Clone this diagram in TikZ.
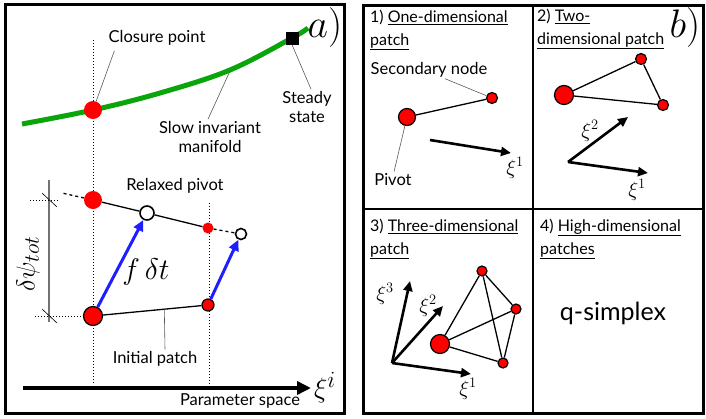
\documentclass[tikz,border=0pt]{standalone}
\usepackage{fontspec}
\setmainfont{Lato}
\usetikzlibrary{arrows.meta,calc}
\definecolor{mangreen}{RGB}{10,165,10}
\definecolor{vecblue}{RGB}{30,30,255}
\begin{document}
\begin{tikzpicture}[x=1pt,y=-1pt,
 lbl/.style={font=\fontsize{16.5}{19}\selectfont, inner sep=0pt, align=center},
 hdr/.style={font=\fontsize{16}{23}\selectfont, inner sep=0pt, align=left, anchor=west},
 lead/.style={draw=black!65, line width=0.6pt},
 rdot/.style={circle, fill=red, inner sep=0pt, minimum size=#1},
 rnode/.style={circle, fill=red, draw=black, line width=1.2pt, inner sep=0pt, minimum size=#1},
 onode/.style={circle, fill=white, draw=black, line width=1.6pt, inner sep=0pt, minimum size=#1},
 seg/.style={line width=1.3pt},
 vec/.style={line width=2.6pt, -{Triangle[length=10pt,width=9pt]}},
 bvec/.style={draw=vecblue, line width=3pt, -{Triangle[length=11pt,width=10pt]}},
 dots/.style={dotted, line width=1pt},
 mth/.style={font=\fontsize{24.88}{27}\selectfont, inner sep=0pt},
 smth/.style={font=\fontsize{20.74}{22}\selectfont, inner sep=0pt}]
\useasboundingbox (0,0) rectangle (706,418);

% ---------- frames ----------
\draw[line width=3pt] (5.5,4.5) rectangle (344,413);
\draw[line width=3pt] (363.5,5) rectangle (703,413);
\draw[line width=1.5pt] (533,5) -- (533,413);
\draw[line width=1.5pt] (363.5,209) -- (703,209);

% ---------- panel a ----------
\draw[dots] (93,40) -- (93,384);
\draw[dots] (209,203) -- (209,384);

\draw[mangreen, line width=5pt] plot[smooth, tension=0.6] coordinates {(22,124) (93,110) (160,93) (230,70) (292,38) (308,28)};
\coordinate (m1) at (230,71);

\node[rdot=18] (cp) at (93,110) {};
\node[fill=black, inner sep=0pt, minimum size=13pt] (sq) at (292,38) {};

\node[lbl] (cl) at (157,38) {Closure point};
\draw[lead] ([xshift=6pt,yshift=-5pt]cl.south west) -- (cp);
\node[lbl] (ss) at (307,107) {Steady\\state};
\draw[lead] (sq.south) -- ([xshift=4pt,yshift=2pt]ss.north);
\node[lbl] (sim) at (210,137) {Slow invariant\\manifold};
\draw[lead] ([xshift=-2pt,yshift=2pt]sim.north) -- (m1);

\node[lbl] (rlx) at (175,186) {Relaxed pivot};

% delta psi bracket
\draw[black!55, line width=1.3pt] (49,180) -- (49,322);
\draw[line width=0.6pt] (42,193) -- (57,207);
\draw[line width=0.6pt] (42,309) -- (57,323);
\coordinate (d1) at (30,200);
\coordinate (d2) at (58,200);
\coordinate (d3) at (35,316);
\coordinate (d4) at (82,316);
\draw[dots] (d1) -- (d2);
\draw[dots] (d3) -- (d4);
\node[mth, rotate=90] (dpsi) at (28,264) {\scalebox{1.05}{$\delta\psi_{tot}$}};

% patches
\node[rdot=18] (rp) at (93,200) {};
\node[onode=14] (op1) at (147,213) {};
\node[rdot=11] (sr) at (208,228) {};
\node[onode=11] (op2) at (241,234) {};
\node[rnode=19] (ip) at (93,316) {};
\node[rnode=12] (is) at (208,305) {};
\coordinate (ext) at (62,193);

\draw[seg] (rp) -- (op1) -- (sr);
\draw[seg, dashed] (sr) -- (op2);
\draw[seg, dashed] (rp) -- (ext);
\draw[seg] (ip) -- (is);

\draw[bvec] (ip) -- (op1);
\draw[bvec] (is) -- (op2);
\node[mth] (fdt) at (146,272) {\scalebox{1.2}{$f\,\delta t$}};

\node[lbl] (ipt) at (155,359) {Initial patch};
\coordinate (ipl) at ($(ip)!0.62!(is)$);
\draw[lead] (ipl) -- ([xshift=10pt,yshift=2pt]ipt.north);

% axis
\coordinate (ax0) at (23,388);
\coordinate (ax1) at (311,388);
\draw[line width=4pt, -{Triangle[length=14pt,width=13pt]}] (ax0) -- (ax1);
\node[mth] (xi) at (325,388) {\scalebox{1.12}{$\xi^{i}$}};
\node[lbl] (ps) at (240,401) {Parameter space};
\node[mth] (la) at (325,28) {\scalebox{1.6}{$a)$}};

% ---------- panel b ----------
% 1) one-dimensional
\node[hdr] (h1) at (370,30) {1) \underline{One-dimensional}\\\underline{patch}};
\node[lbl] (sec) at (429,70) {Secondary node};
\node[rnode=17] (pv1) at (407,117) {};
\node[rnode=11] (sn1) at (492,98) {};
\draw[seg] (pv1) -- (sn1);
\draw[lead] ([xshift=16pt,yshift=-1pt]sec.south) -- (sn1);
\node[lbl] (pvt) at (393,180) {Pivot};
\draw[lead] (pv1) -- ([xshift=1pt,yshift=2pt]pvt.north);
\coordinate (a1s) at (430,140);
\coordinate (a1e) at (511,153);
\draw[vec] (a1s) -- (a1e);
\node[smth] (x11) at (515,168) {$\xi^{1}$};

% 2) two-dimensional
\node[hdr] (h2) at (537,29) {2) \underline{Two-}\\\underline{dimensional patch}};
\node[mth] (lb) at (685,28) {\scalebox{1.6}{$b)$}};
\node[rnode=19] (t0) at (564,95) {};
\node[rnode=11] (t1) at (641,59) {};
\node[rnode=11] (t2) at (663,105) {};
\draw[seg] (t0) -- (t1) -- (t2) -- (t0);
\coordinate (o2) at (568,162);
\coordinate (o2a) at (628,117);
\coordinate (o2b) at (648,173);
\draw[vec] (o2) -- (o2a);
\draw[vec] (o2) -- (o2b);
\node[smth] (x22) at (590,131) {$\xi^{2}$};
\node[smth] (x21) at (637,190) {$\xi^{1}$};

% 3) three-dimensional
\node[hdr] (h3) at (370,239) {3) \underline{Three-dimensional}\\\underline{patch}};
\node[rnode=19] (q0) at (440,344) {};
\node[rnode=10] (q1) at (482,271) {};
\node[rnode=10] (q2) at (516,309) {};
\node[rnode=10] (q3) at (503,363) {};
\draw[seg] (q0) -- (q1) -- (q2) -- (q3) -- (q0) -- (q2);
\draw[seg] (q1) -- (q3);
\coordinate (o3) at (392,363);
\coordinate (o3a) at (410,281);
\coordinate (o3b) at (443,306);
\coordinate (o3c) at (471,374);
\draw[vec] (o3) -- (o3a);
\draw[vec] (o3) -- (o3b);
\draw[vec] (o3) -- (o3c);
\node[smth] (x33) at (385,294) {$\xi^{3}$};
\node[smth] (x32) at (428,306) {$\xi^{2}$};
\node[smth] (x31) at (468,389) {$\xi^{1}$};

% 4) high-dimensional
\node[hdr] (h4) at (540,239) {4) \underline{High-dimensional}\\\underline{patches}};
\node[font=\fontsize{25}{28}\selectfont, inner sep=0pt] (qs) at (613,313) {q-simplex};
\end{tikzpicture}
\end{document}
